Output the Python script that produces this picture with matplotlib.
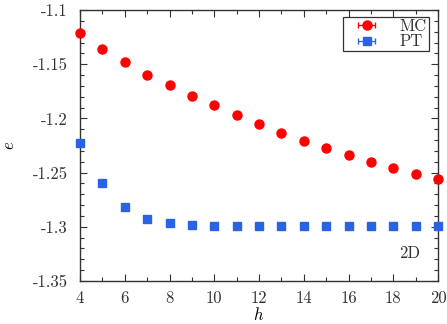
import matplotlib

matplotlib.use("Agg")

import matplotlib.pyplot as plt
from matplotlib.ticker import MultipleLocator

h_values = [4, 5, 6, 7, 8, 9, 10, 11, 12, 13, 14, 15, 16, 17, 18, 19, 20]
mc_energy = [-1.1215, -1.136, -1.148, -1.160, -1.1695, -1.179, -1.188, -1.197,
             -1.205, -1.2135, -1.2205, -1.227, -1.2335, -1.240, -1.2458, -1.251, -1.256]
pt_energy = [-1.223, -1.260, -1.282, -1.2925, -1.297, -1.2986, -1.2993, -1.2994,
             -1.2994, -1.2994, -1.2994, -1.2994, -1.2994, -1.2994, -1.2994, -1.2994, -1.2994]

plt.rcParams.update({
    "font.family": "serif",
    "font.serif": ["cmr10", "DejaVu Serif"],
    "mathtext.fontset": "cm",
    "axes.unicode_minus": False,
    "font.size": 12,
})

fig = plt.figure(figsize=(4.47, 3.24), dpi=100)
ax = fig.add_axes([0.179, 0.133, 0.801, 0.836])

ax.errorbar(h_values, mc_energy, xerr=0, fmt="o", color="#ff0000", ms=6.5,
            capsize=2.5, elinewidth=0.9, label="MC", clip_on=False, zorder=3)
ax.errorbar(h_values, pt_energy, xerr=0, fmt="s", color="#2a62e4", ms=6,
            capsize=2.5, elinewidth=0.9, label="PT", clip_on=False, zorder=3)

ax.set_xlim(4, 20)
ax.set_ylim(-1.35, -1.1)
ax.xaxis.set_major_locator(MultipleLocator(2))
ax.xaxis.set_minor_locator(MultipleLocator(1))
ax.yaxis.set_major_locator(MultipleLocator(0.05))
ax.yaxis.set_minor_locator(MultipleLocator(0.01))
ax.yaxis.set_major_formatter(plt.FuncFormatter(lambda v, p: f"{v:g}"))
ax.tick_params(which="both", direction="in", top=True, right=True, labelsize=12, colors="#333333")
ax.tick_params(which="major", length=5, width=0.8)
ax.tick_params(which="minor", length=3, width=0.8)
ax.tick_params(axis="x", pad=7)
ax.tick_params(axis="y", pad=9)
for s in ax.spines.values():
    s.set_linewidth(1.0)
    s.set_color("#333333")

ax.set_xlabel("$h$", labelpad=0)
ax.set_ylabel("$e$", labelpad=11)
ax.text(0.95, 0.1, "2D", transform=ax.transAxes, ha="right", va="center", fontsize=12, color="#333333")

leg = ax.legend(loc="upper right", bbox_to_anchor=(0.975, 0.975), fancybox=False,
                edgecolor="#333333", framealpha=1, borderpad=0.12, handlelength=2.6,
                labelspacing=0.0, handletextpad=0.7, borderaxespad=0, fontsize=12)
leg.get_frame().set_linewidth(0.9)
for t in leg.get_texts():
    t.set_color("#333333")

fig.savefig("out.png", dpi=100)
